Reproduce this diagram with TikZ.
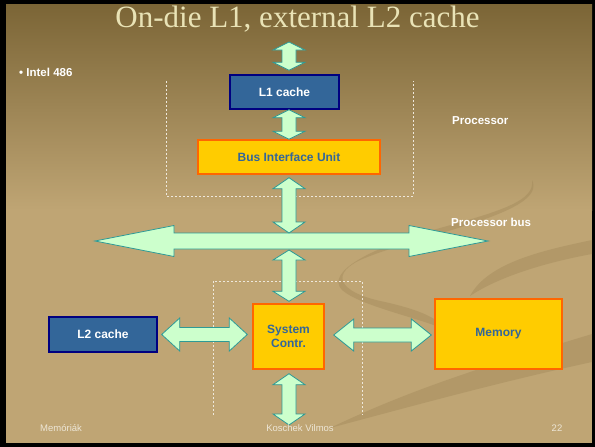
\documentclass[tikz,border=0pt]{standalone}
\usepackage{fontspec}
\usetikzlibrary{calc}
\newfontfamily\arialfont{Liberation Sans}
\newfontfamily\titlefont{Liberation Serif}

\definecolor{slidetop}{HTML}{7B6536}
\definecolor{slidebase}{HTML}{BFA574}
\definecolor{swirlcol}{HTML}{9A8254}
\definecolor{titlecol}{HTML}{E9E3B6}
\definecolor{bluebox}{HTML}{336699}
\definecolor{blueedge}{HTML}{000080}
\definecolor{yellowbox}{HTML}{FFCC00}
\definecolor{orangeedge}{HTML}{FF6600}
\definecolor{arrowfill}{HTML}{CCFFCC}
\definecolor{arrowedge}{HTML}{2E9A96}
\definecolor{footcol}{HTML}{EDE6D6}
\definecolor{dashcol}{HTML}{EEE8DC}

\tikzset{
  bluecache/.style={rectangle, inner sep=0pt, fill=bluebox, draw=blueedge,
    line width=1.4pt, text=white, font=\arialfont\bfseries\fontsize{12}{13}\selectfont},
  yellowunit/.style={rectangle, inner sep=0pt, fill=yellowbox, draw=orangeedge,
    line width=1.4pt, text=bluebox, align=center,
    font=\arialfont\bfseries\fontsize{12}{14}\selectfont},
  blockarrow/.style={fill=arrowfill, draw=arrowedge, line width=0.8pt, line join=miter},
  regionline/.style={draw=dashcol, line width=0.6pt, dash pattern=on 2pt off 2pt},
  whitelabel/.style={text=white, inner sep=0pt, anchor=west,
    font=\arialfont\bfseries\fontsize{11.5}{13}\selectfont},
  footer/.style={text=footcol, inner sep=0pt, font=\arialfont\fontsize{9.5}{10}\selectfont},
  swirl/.style={fill=swirlcol, opacity=0.35}
}

% vertical double block arrow: #1 top tip, #2 bottom tip, #3 head length,
% #4 head half width, #5 shaft half width
\newcommand\vblockarrow[5]{%
  \path[blockarrow] let \p1=(#1), \p2=(#2) in
    (\x1,\y1) -- (\x1+#4,\y1-#3) -- (\x1+#5,\y1-#3) -- (\x1+#5,\y2+#3)
    -- (\x1+#4,\y2+#3) -- (\x1,\y2) -- (\x1-#4,\y2+#3) -- (\x1-#5,\y2+#3)
    -- (\x1-#5,\y1-#3) -- (\x1-#4,\y1-#3) -- cycle;}
% horizontal double block arrow: #1 left tip, #2 right tip, same parameters
\newcommand\hblockarrow[5]{%
  \path[blockarrow] let \p1=(#1), \p2=(#2) in
    (\x1,\y1) -- (\x1+#3,\y1+#4) -- (\x1+#3,\y1+#5) -- (\x2-#3,\y1+#5)
    -- (\x2-#3,\y1+#4) -- (\x2,\y1) -- (\x2-#3,\y1-#4) -- (\x2-#3,\y1-#5)
    -- (\x1+#3,\y1-#5) -- (\x1+#3,\y1-#4) -- cycle;}

\begin{document}
\begin{tikzpicture}[x=1pt, y=-1pt]
\useasboundingbox (0,0) rectangle (595,447);

% slide frame and background
\fill[black] (0,0) rectangle (595,447);
\fill[slidebase] (6,4) rectangle (592,443);
\shade[top color=slidetop, bottom color=slidebase] (6,4) rectangle (592,210);

% faint background swirls
\fill[swirl] (532,180) .. controls (548,212) and (430,232) .. (365,258)
  .. controls (330,272) and (335,292) .. (385,302)
  .. controls (420,310) and (438,318) .. (446,330)
  .. controls (420,318) and (360,306) .. (342,290)
  .. controls (325,272) and (370,248) .. (440,228)
  .. controls (505,210) and (535,200) .. cycle;
\fill[swirl] (470,296) .. controls (488,262) and (545,250) .. (592,240)
  -- (592,254) .. controls (548,262) and (500,276) .. cycle;
\fill[swirl] (330,428) .. controls (420,385) and (500,362) .. (592,334)
  -- (592,362) .. controls (500,382) and (420,404) .. cycle;

% title and side labels
\node[text=titlecol, inner sep=0pt, font=\titlefont\fontsize{31}{33}\selectfont]
  (title) at (297.5,19) {On-die L1, external L2 cache};
\node[whitelabel] (intel) at (19,72) {• Intel 486};
\node[whitelabel] (proclabel) at (452,121) {Processor};
\node[whitelabel] (buslabel) at (451,222) {Processor bus};

% processor and system controller regions
\draw[regionline] (166,81) -- (166,196) -- (413,196) -- (413,81);
\draw[regionline] (213,415) -- (213,281) -- (362,281) -- (362,415);

% blocks
\node[bluecache, minimum width=109pt, minimum height=34pt] (l1) at (284.5,92) {L1 cache};
\node[yellowunit, minimum width=182pt, minimum height=34pt] (biu) at (289,157) {Bus Interface Unit};
\node[yellowunit, minimum width=71pt, minimum height=65pt] (sys) at (288.5,336.5) {System\\Contr.};
\node[yellowunit, minimum width=127pt, minimum height=70pt] (mem) at (498.5,334) {Memory};
\node[bluecache, minimum width=108pt, minimum height=35pt] (l2) at (103,334.5) {L2 cache};

% processor bus
\coordinate (bus) at (289,241);
\coordinate (busL) at (95,241);
\coordinate (busR) at (488,241);
\coordinate (cpuext) at (289,42);
\coordinate (sysext) at (289,425);

\hblockarrow{busL}{busR}{79pt}{15.5pt}{8pt}

% vertical connections
\vblockarrow{cpuext}{$(l1.north -| bus)+(0,-4)$}{8pt}{16pt}{7pt}
\vblockarrow{l1.south -| bus}{biu.north -| bus}{8pt}{16pt}{7pt}
\vblockarrow{$(biu.south -| bus)+(0,3)$}{$(bus)+(0,-8)$}{11pt}{16pt}{7pt}
\vblockarrow{$(bus)+(0,9)$}{$(sys.north -| bus)+(0,-2)$}{10pt}{16pt}{7pt}
\vblockarrow{$(sys.south -| bus)+(0,4)$}{sysext}{11pt}{16pt}{7pt}

% horizontal connections
\hblockarrow{$(l2.east)+(4,0)$}{$(sys.west)+(-5,0)$}{18pt}{16.5pt}{7pt}
\hblockarrow{$(sys.east)+(9,-1.5)$}{$(mem.west)+(-3,0)$}{20pt}{16pt}{7pt}

% footer
\node[footer, anchor=west] (ftleft) at (40,428) {Memóriák};
\node[footer] (ftmid) at (300,428) {Koschek Vilmos};
\node[footer] (ftright) at (557,428) {22};
\end{tikzpicture}
\end{document}
